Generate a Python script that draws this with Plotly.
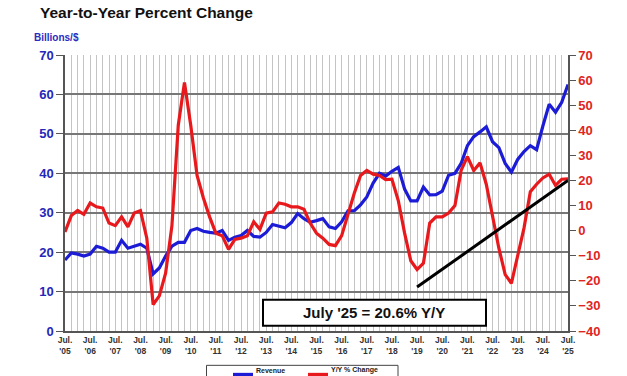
import pandas as pd
import plotly.graph_objects as go

# Quarterly observation dates, Jul 2005 .. Jul 2025
dates = pd.date_range("2005-07-01", "2025-07-01", freq="3MS")

revenue = [
    18.0, 19.8,                    # 2005 Jul, Oct
    19.5, 19.0, 19.5, 21.5,        # 2006
    21.0, 20.0, 20.0, 23.0,        # 2007
    21.0, 21.5, 22.0, 21.0,        # 2008
    14.5, 16.0, 19.0, 21.5,        # 2009
    22.5, 22.5, 25.5, 26.0,        # 2010
    25.3, 25.0, 24.8, 25.5,        # 2011
    23.0, 23.8, 24.2, 25.5,        # 2012
    24.0, 23.8, 25.0, 27.0,        # 2013
    26.5, 26.2, 27.5, 29.8,        # 2014
    28.5, 27.6, 28.0, 28.5,        # 2015
    26.4, 26.0, 27.7, 30.5,        # 2016
    30.5, 32.0, 34.0, 37.5,        # 2017
    40.0, 39.3, 40.5, 41.5,        # 2018
    36.0, 33.0, 33.0, 36.5,        # 2019
    34.5, 34.6, 35.5, 39.5,        # 2020
    40.0, 42.5, 47.0, 49.3,        # 2021
    50.5, 51.8, 48.0, 46.5,        # 2022
    42.5, 40.3, 43.5, 45.5,        # 2023
    47.0, 46.0, 52.0, 57.5,        # 2024
    55.5, 58.0, 62.5,              # 2025 Jan, Apr, Jul
]

yoy_change = [
    -0.5, 6.0,
    8.0, 6.5, 11.0, 9.5,
    9.0, 3.0, 2.0, 5.5,
    1.5, 7.0, 8.0, -3.0,
    -29.5, -26.0, -17.0, 2.0,
    42.0, 59.0, 42.0, 22.0,
    13.0, 5.5, -1.0, -2.0,
    -7.5, -3.5, -3.0, -2.0,
    3.5, 0.5, 7.0, 7.5,
    11.0, 10.5, 9.5, 9.5,
    8.5, 3.0, -1.0, -3.0,
    -5.5, -6.0, -2.0, 7.0,
    15.0, 22.0, 24.0, 22.5,
    22.0, 20.3, 20.5, 12.0,
    -1.0, -12.0, -15.5, -13.0,
    3.0, 5.5, 5.5, 7.0,
    10.0, 24.0, 29.5, 24.0,
    27.0, 18.5, 5.5, -7.0,
    -17.5, -21.0, -10.0, 1.0,
    15.5, 18.5, 21.0, 22.5,
    18.0, 20.5, 20.6,
]

trend_dates = ["2019-07-01", "2025-07-01"]
trend_values = [-22.5, 20.0]

tick_dates = [f"{y}-07-01" for y in range(2005, 2026)]
tick_labels = [f"<b>Jul.<br>'{y % 100:02d}</b>" for y in range(2005, 2026)]

series_names = ["Revenue", "Y/Y % Change"]

BLUE = "#1c1cd6"
RED = "#e8191c"
FONT = "Arial, Liberation Sans, sans-serif"

# plot area in pixels -> paper coordinates helpers
PL, PW, PB, PH = 65, 503, 330.7, 275.7
def px(x):
    return (x - PL) / PW
def py(y):
    return (PB - y) / PH

fig = go.Figure()
fig.add_trace(go.Scatter(x=dates, y=revenue, name=series_names[0], mode="lines",
                         line=dict(color=BLUE, width=3.2), showlegend=False))
fig.add_trace(go.Scatter(x=dates, y=yoy_change, name=series_names[1], mode="lines",
                         line=dict(color=RED, width=3.2), yaxis="y2", showlegend=False))
fig.add_trace(go.Scatter(x=trend_dates, y=trend_values, mode="lines", showlegend=False,
                         line=dict(color="black", width=3), yaxis="y2"))

fig.update_layout(
    width=627, height=376,
    margin=dict(l=65, r=59, t=55, b=45, autoexpand=False),
    paper_bgcolor="white", plot_bgcolor="white",
    font=dict(family=FONT),
    title=dict(text="<b>Year-to-Year Percent Change</b>", x=40/627, xanchor="left",
               y=1 - 13/376, yanchor="middle", font=dict(size=15.5, color="#111")),
    xaxis=dict(
        type="date", range=["2005-07-01", "2025-07-01"],
        tickmode="array", tickvals=tick_dates, ticktext=tick_labels,
        tickfont=dict(size=8.5, color="#333", family=FONT),
        showgrid=True, gridcolor="#c4c4c4", gridwidth=1,
        minor=dict(dtick="M3", tick0="2005-07-01", showgrid=True, gridcolor="#c4c4c4", gridwidth=1),
        showline=True, linecolor="#555", linewidth=1.5,
        ticks="", zeroline=False,
    ),
    yaxis=dict(
        range=[0, 70], dtick=10, tick0=0,
        tickfont=dict(size=13, color="#2626b8", family=FONT),
        tickprefix="<b>", ticksuffix="</b>",
        showgrid=True, gridcolor="#777", gridwidth=1.5,
        showline=True, linecolor="#555", linewidth=1.5,
        ticks="outside", ticklen=7, tickcolor="#555",
        zeroline=False,
    ),
    yaxis2=dict(
        overlaying="y", side="right",
        range=[-40, 70], dtick=10, tick0=0,
        tickfont=dict(size=13, color="#e02424", family=FONT),
        tickprefix="<b>", ticksuffix="</b>",
        showgrid=False,
        showline=True, linecolor="#555", linewidth=1.5,
        ticks="outside", ticklen=6, tickcolor="#555",
        zeroline=False,
    ),
    showlegend=False,
)

# annotation box
fig.add_shape(type="rect", xref="paper", yref="paper",
              x0=px(263), x1=px(486), y0=py(325.5), y1=py(299.5),
              line=dict(color="black", width=2), fillcolor="white", layer="above")
fig.add_annotation(xref="paper", yref="paper", x=px(374), y=py(312.5),
                   xanchor="center", yanchor="middle",
                   text="<b>July '25 = 20.6% Y/Y</b>", showarrow=False,
                   font=dict(size=15, color="#111", family=FONT))
fig.add_annotation(xref="paper", yref="paper", x=px(32), y=py(37.5),
                   xanchor="left", yanchor="middle",
                   text="<b>Billions/$</b>", showarrow=False,
                   font=dict(size=10, color="#2b2bc0", family=FONT))

# legend box (cut by the bottom edge, as in the original)
fig.add_shape(type="rect", xref="paper", yref="paper",
              x0=px(206.5), x1=px(398), y0=py(390), y1=py(365),
              line=dict(color="#444", width=1), fillcolor="white", layer="above")
for (sx0, sx1, color, name) in [(233, 253, BLUE, series_names[0]),
                                (308, 328, RED, series_names[1])]:
    fig.add_shape(type="rect", xref="paper", yref="paper",
                  x0=px(sx0), x1=px(sx1), y0=py(381), y1=py(372.5),
                  line=dict(width=0), fillcolor=color, layer="above")
    fig.add_annotation(xref="paper", yref="paper", x=px(sx1 + 1), y=py(370),
                       xanchor="left", yanchor="middle", text=f"<b>{name}</b>",
                       showarrow=False, font=dict(size=7, color="#222", family=FONT))

fig.write_html("out.html", config={"displayModeBar": False},
               post_script="document.body.style.margin='0px';")
